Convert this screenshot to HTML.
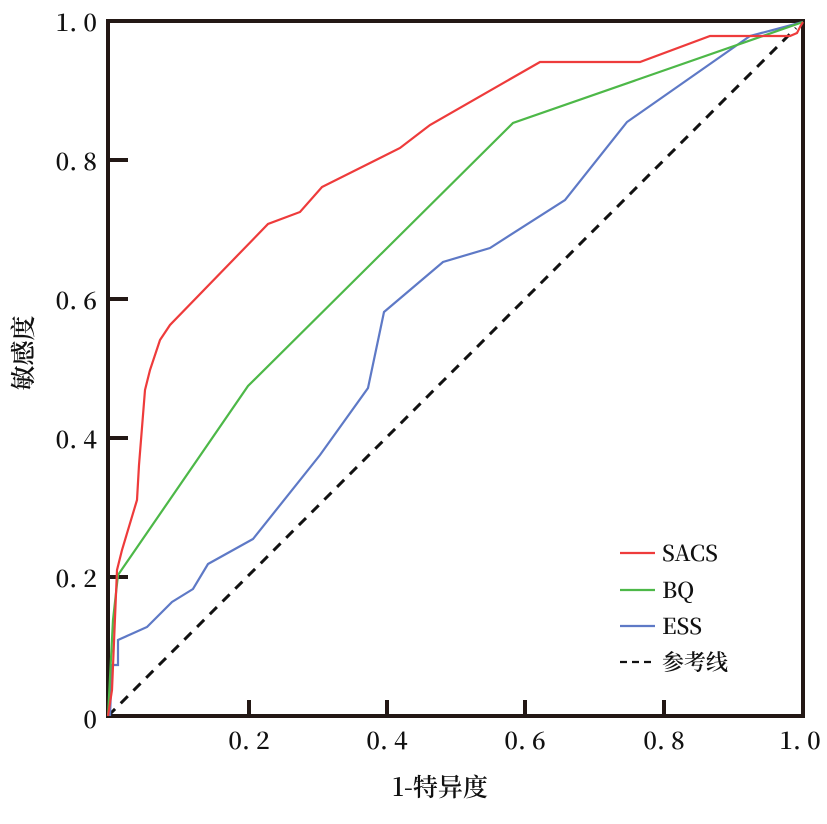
<!DOCTYPE html><html><head><meta charset="utf-8"><style>body{margin:0;background:#fff}</style></head><body>
<svg width="827" height="819" xmlns="http://www.w3.org/2000/svg" font-family="Noto Serif CJK SC, Liberation Serif, serif">
<rect x="108" y="21" width="695" height="695" fill="none" stroke="#231815" stroke-width="4"/>
<g stroke="#231815" stroke-width="4">
<line x1="108" y1="160" x2="128" y2="160"/><line x1="108" y1="299" x2="128" y2="299"/><line x1="108" y1="438" x2="128" y2="438"/><line x1="108" y1="577" x2="128" y2="577"/>
<line x1="249" y1="716" x2="249" y2="700"/><line x1="387" y1="716" x2="387" y2="700"/><line x1="525" y1="716" x2="525" y2="700"/><line x1="664" y1="716" x2="664" y2="700"/>
</g>
<g font-size="24" fill="#111" text-anchor="end" font-weight="600">
<text x="97" y="31">1. 0</text><text x="97" y="170">0. 8</text><text x="97" y="309">0. 6</text><text x="97" y="448">0. 4</text><text x="97" y="587">0. 2</text><text x="97" y="728">0</text>
</g>
<g font-size="24" fill="#111" text-anchor="middle" font-weight="600">
<text x="249" y="749">0. 2</text><text x="387" y="749">0. 4</text><text x="525" y="749">0. 6</text><text x="664" y="749">0. 8</text><text x="800" y="749">1. 0</text>
<text x="440" y="796" font-size="25">1-特异度</text>
</g>
<text transform="translate(32,353) rotate(-90)" font-size="25" font-weight="600" text-anchor="middle" fill="#111">敏感度</text>
<line x1="108" y1="716" x2="796" y2="28" stroke="#111" stroke-width="3" stroke-dasharray="10,8"/>
<g fill="none" stroke-width="2.2">
<polyline stroke="#5e79c6" points="110,716 112,665 118,665 118,640 147,627 172,602 193,589 208,564 253,539 320,455 368,388 384,312 443,262 490,248 565,200 627,122 750,36 803,22"/>
<polyline stroke="#4db848" points="108,716 113,620 118,575 248,386 513,123 803,22"/>
<polyline stroke="#ee3b3b" points="108,716 112,690 117,570 122,550 137,500 139,465 145,390 150,370 160,340 170,325 268,224 300,212 322,187 400,148 430,125 540,62 640,62 710,36 790,36 797,33 800,27 803,22"/>
</g>
<g stroke-width="2.2">
<line x1="620" y1="553" x2="655" y2="553" stroke="#ee3b3b"/>
<line x1="620" y1="590" x2="655" y2="590" stroke="#4db848"/>
<line x1="620" y1="626" x2="655" y2="626" stroke="#5e79c6"/>
<line x1="620" y1="662" x2="655" y2="662" stroke="#111" stroke-dasharray="7,5"/>
</g>
<g font-size="22" fill="#111" font-weight="600">
<text x="662" y="561">SACS</text><text x="662" y="598">BQ</text><text x="662" y="634">ESS</text><text x="662" y="670">参考线</text>
</g>
</svg></body></html>
